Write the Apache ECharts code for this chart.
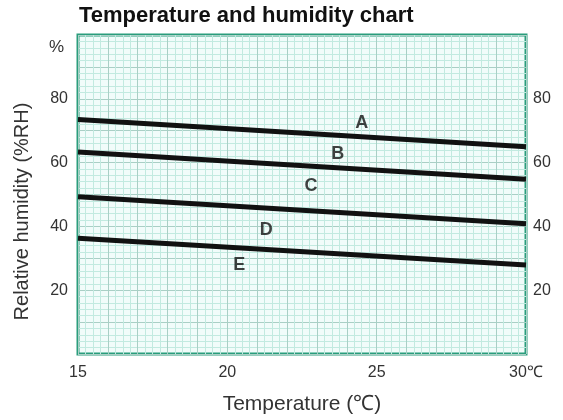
<!DOCTYPE html>
<html>
<head>
<meta charset="utf-8">
<script src="https://cdn.jsdelivr.net/npm/echarts@6/dist/echarts.min.js"></script>
<style>
  html, body { margin: 0; padding: 0; background: #fff; }
  #chart { width: 563px; height: 420px; }
</style>
</head>
<body>
<div id="chart"></div>
<script>
// 温度 (x) 两端
var temps = [15, 30];
// 四条分界线，左端和右端的相对湿度
var lineA = [73.5, 65];
var lineB = [63.3, 54.8];
var lineC = [49.3, 40.8];
var lineD = [36.3, 27.9];
// 区域标注 A-E
var zoneNames = ["A", "B", "C", "D", "E"];
var zoneX = [24.5, 23.7, 22.8, 21.3, 20.4];
var zoneY = [72.5, 62.8, 52.5, 39, 27.8];
// 刻度标签
var xTickLabels = [15, 20, 25, 30];
var yTickLabels = [20, 40, 60, 80];

function pairs(ys) {
  return temps.map(function (t, i) { return [t, ys[i]]; });
}

var lineStyle = { color: "#111", width: 5 };
var lines = [lineA, lineB, lineC, lineD].map(function (ys) {
  return {
    type: "line",
    data: pairs(ys),
    symbol: "none",
    lineStyle: lineStyle,
    silent: true
  };
});

var zones = zoneNames.map(function (n, i) {
  return { value: [zoneX[i], zoneY[i]], name: n };
});

var yLabel = function (v) {
  return yTickLabels.indexOf(v) >= 0 ? v : "";
};

var font = "Liberation Sans";

var chart = echarts.init(document.getElementById("chart"));
chart.setOption({
  animation: false,
  title: {
    text: "Temperature and humidity chart",
    left: 74,
    top: 0,
    textStyle: { fontFamily: font, fontSize: 22, fontWeight: "bold", color: "#111" }
  },
  graphic: [{
    type: "text",
    left: 49,
    top: 39,
    style: { text: "%", font: "17px Liberation Sans", fill: "#333" }
  }],
  grid: {
    left: 78, right: 37, top: 35, bottom: 65,
    show: true,
    backgroundColor: "#f1fcfa",
    borderColor: "#2a9d7c",
    borderWidth: 3
  },
  xAxis: {
    type: "value",
    min: 15, max: 30, interval: 1,
    name: "Temperature (℃)",
    nameLocation: "middle",
    nameGap: 40,
    nameTextStyle: { fontFamily: font, fontSize: 21, color: "#333" },
    axisLine: { show: false },
    axisTick: { show: false },
    axisLabel: {
      margin: 11,
      fontFamily: font, fontSize: 16, color: "#333",
      formatter: function (v) {
        if (xTickLabels.indexOf(v) < 0) return "";
        return v === 30 ? "30℃" : v;
      }
    },
    splitLine: { lineStyle: { color: "#a9cfc5", width: 1 } },
    minorTick: { show: false, splitNumber: 4 },
    minorSplitLine: { show: true, lineStyle: { color: "#c2eae0", width: 1 } }
  },
  yAxis: [{
    type: "value",
    min: 0, max: 100, interval: 10,
    name: "Relative humidity (%RH)",
    nameLocation: "middle",
    nameGap: 46,
    // 名称稍微往下偏一点
    nameTextStyle: { fontFamily: font, fontSize: 20, color: "#333", padding: [0, 34, 0, 0] },
    axisLine: { show: false },
    axisTick: { show: false },
    axisLabel: { margin: 10, fontFamily: font, fontSize: 16, color: "#333", formatter: yLabel },
    splitLine: { lineStyle: { color: "#a9cfc5", width: 1 } },
    minorTick: { show: false, splitNumber: 5 },
    minorSplitLine: { show: true, lineStyle: { color: "#c2eae0", width: 1 } }
  }, {
    type: "value",
    position: "right",
    min: 0, max: 100, interval: 10,
    axisLine: { show: false },
    axisTick: { show: false },
    splitLine: { show: false },
    axisLabel: { margin: 7, fontFamily: font, fontSize: 16, color: "#333", formatter: yLabel }
  }],
  series: lines.concat([{
    type: "scatter",
    data: zones,
    symbolSize: 0,
    silent: true,
    label: {
      show: true,
      position: "inside",
      formatter: "{b}",
      fontFamily: font,
      fontSize: 18,
      fontWeight: "bold",
      color: "#111"
    }
  }])
});
</script>
</body>
</html>
